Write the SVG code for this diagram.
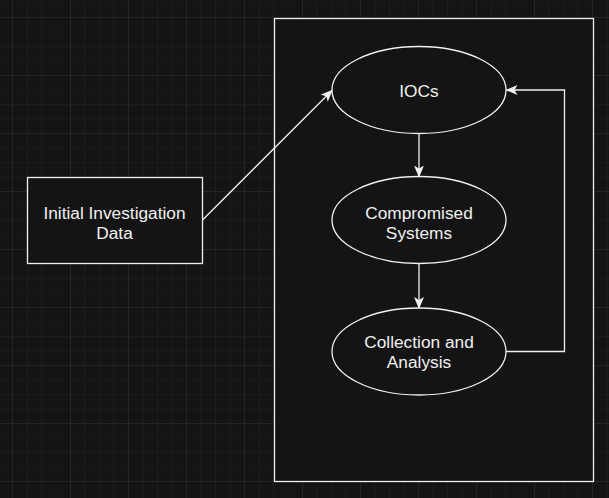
<svg xmlns="http://www.w3.org/2000/svg" width="609" height="498" viewBox="0 0 609 498">
<defs>
<pattern id="minor" x="12" y="2.5" width="14.5" height="14.5" patternUnits="userSpaceOnUse">
<path d="M0 0V14.5M0 0H14.5" fill="none" stroke="#212121" stroke-width="1"/>
</pattern>
<pattern id="major" x="12" y="17" width="58" height="58" patternUnits="userSpaceOnUse">
<path d="M0 0V58M0 0H58" fill="none" stroke="#2d2d2d" stroke-width="1"/>
</pattern>
<marker id="arr" viewBox="0 0 12 10" refX="11" refY="5" markerWidth="12" markerHeight="10" markerUnits="userSpaceOnUse" orient="auto">
<path d="M0 0L12 5L0 10L3 5Z" fill="#f0f0f0"/>
</marker>
</defs>
<style>
.n{fill:#141414;stroke:#f0f0f0;stroke-width:1.3}
.t{font-family:"Liberation Sans",Arial,sans-serif;font-size:17.3px;fill:#f0f0f0;text-anchor:middle}
.e{fill:none;stroke:#f0f0f0;stroke-width:1.3;marker-end:url(#arr)}
</style>
<rect width="609" height="498" fill="#141414"/>
<rect width="609" height="498" fill="url(#minor)"/>
<rect width="609" height="498" fill="url(#major)"/>
<g id="container"><rect class="n" x="274.5" y="18.5" width="319" height="463"/></g>
<g id="initial"><rect class="n" x="27.5" y="177.5" width="175" height="86"/>
<text class="t" x="114.5" y="218.5">Initial Investigation</text><text class="t" x="114.5" y="238.5">Data</text></g>
<g id="iocs"><ellipse class="n" cx="419" cy="90" rx="87" ry="43.5"/><text class="t" x="419" y="96.5">IOCs</text></g>
<g id="compromised"><ellipse class="n" cx="419" cy="220" rx="87" ry="43.5"/>
<text class="t" x="419" y="218.5">Compromised</text><text class="t" x="419" y="238.5">Systems</text></g>
<g id="collection"><ellipse class="n" cx="419" cy="351.5" rx="87" ry="43.5"/>
<text class="t" x="419" y="348">Collection and</text><text class="t" x="419" y="368">Analysis</text></g>
<g id="connectors">
<path class="e" d="M202.5 220L332 90.5"/>
<path class="e" d="M419 133.5V176.5"/>
<path class="e" d="M419 263.5V308"/>
<path class="e" d="M506 351.5H564.5V90H506.5"/>
</g>
</svg>
